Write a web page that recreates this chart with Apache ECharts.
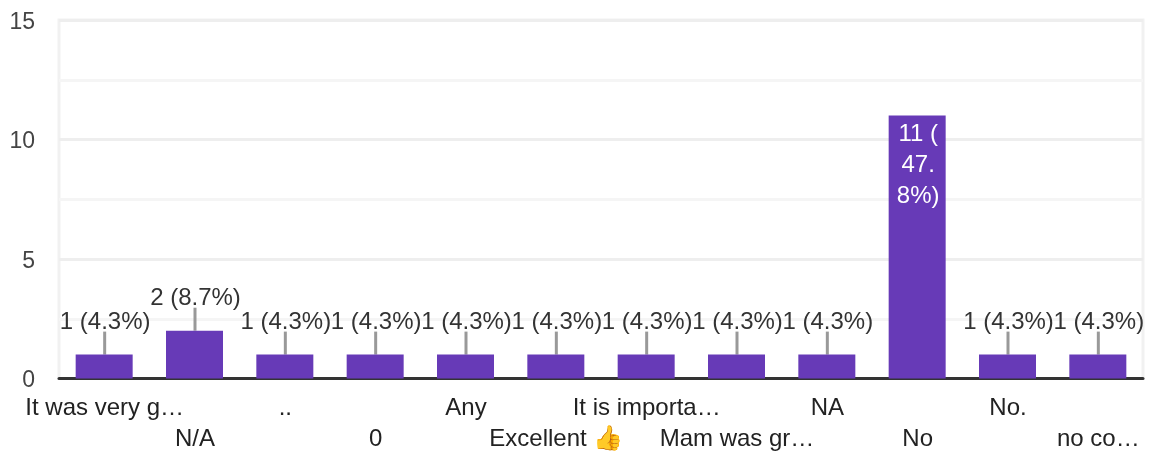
<!DOCTYPE html>
<html><head><meta charset="utf-8">
<style>html,body{margin:0;padding:0;background:#fff}#c{width:1150px;height:455px}</style>
<script src="https://cdn.jsdelivr.net/npm/echarts@6/dist/echarts.min.js"></script>
</head><body><div id="c"></div>
<script>
const categories = ['It was very g…','N/A','..','0','Any','Excellent 👍','It is importa…','Mam was gr…','NA','No','No.','no co…'];
const values = [1,2,1,1,1,1,1,1,1,11,1,1];
const barLabels = ['1 (4.3%)','2 (8.7%)','1 (4.3%)','1 (4.3%)','1 (4.3%)','1 (4.3%)','1 (4.3%)','1 (4.3%)','1 (4.3%)','11 (\n47.\n8%)','1 (4.3%)','1 (4.3%)'];
const yTicks = [0,5,10,15];
const insideThreshold = 5;
const FONT = '"Liberation Sans", Arial, sans-serif';
const FS = 24;
const chart = echarts.init(document.getElementById('c'), null, {renderer:'canvas'});
chart.setOption({
  animation:false,
  backgroundColor:'#fff',
  grid:{show:true,left:59,right:7,top:20,bottom:76.5,borderColor:'#f1f1f1',borderWidth:3,backgroundColor:'transparent'},
  xAxis:[{
    type:'category',data:categories,
    axisTick:{show:false},
    axisLine:{show:true,onZero:true,lineStyle:{color:'#333',width:3}},
    splitLine:{show:false},
    axisLabel:{interval:0,hideOverlap:false,color:'#222',fontFamily:FONT,fontSize:FS,lineHeight:31,margin:14,padding:[0,0,0,1],
      formatter:(v,i)=>i%2?'\n'+v:v}
  }],
  yAxis:[{
    type:'value',min:0,max:15,interval:2.5,
    axisLine:{show:false},axisTick:{show:false},
    splitLine:{show:true,lineStyle:{color:['#eeeeee','#f5f5f5'],width:3}},
    axisLabel:{color:'#444',fontFamily:FONT,fontSize:23,margin:24,verticalAlign:'top',lineHeight:5,
      formatter:v=>yTicks.includes(v)?String(v):''}
  }],
  series:[
    {type:'bar',
     data:values.map((v,i)=>v>=insideThreshold?{value:v,label:{position:'insideTop',distance:3,color:'#fff'}}:v),
     barWidth:57,itemStyle:{color:'#673ab7'},z:3,
     label:{show:true,fontFamily:FONT,fontSize:FS,lineHeight:31,offset:[1,0],
       formatter:p=>barLabels[p.dataIndex],
       position:'top',distance:17,color:'#333'}
    },
    {type:'custom',silent:true,z:2,data:values.map((v,i)=>[i,v]),
     encode:{x:0,y:1},
     renderItem:(params,api)=>{
       const v=api.value(1);
       if(v>=insideThreshold) return {type:'group',children:[]};
       const p=api.coord([api.value(0),v]);
       return {type:'line',shape:{x1:p[0]+0.5,y1:p[1],x2:p[0]+0.5,y2:p[1]-23},style:{stroke:'#999',lineWidth:3}};
     }}
  ]
});
</script></body></html>
